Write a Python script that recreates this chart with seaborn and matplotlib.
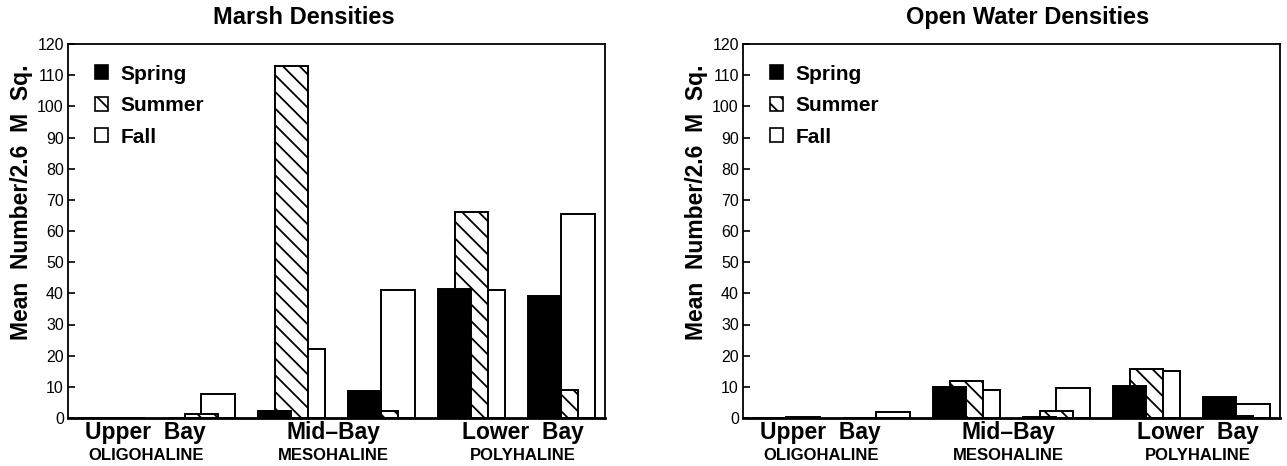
import numpy as np
import pandas as pd
import matplotlib
matplotlib.use("Agg")
import matplotlib.pyplot as plt
import matplotlib.transforms as mtransforms
from matplotlib.patches import Patch
import seaborn as sns

# ---------------- data ----------------
seasons = ["Spring", "Summer", "Fall"]
group_index = [0, 1, 2, 3, 4, 5]          # two sampling groups per bay region
regions = ["Upper  Bay", "Mid\u2013Bay", "Lower  Bay"]
salinity = ["OLIGOHALINE", "MESOHALINE", "POLYHALINE"]
y_ticks = [0, 10, 20, 30, 40, 50, 60, 70, 80, 90, 100, 110, 120]

marsh_spring = [0.0, 0.0, 2.2, 8.7, 41.4, 39.2]
marsh_summer = [0.0, 1.3, 113.0, 2.2, 66.0, 9.0]
marsh_fall = [0.0, 7.7, 22.0, 41.0, 41.0, 65.5]

open_spring = [0.0, 0.0, 10.0, 0.3, 10.3, 6.8]
open_summer = [0.0, 0.0, 11.8, 2.1, 15.6, 0.6]
open_fall = [0.4, 1.8, 9.0, 9.5, 15.1, 4.5]

# ---------------- style ----------------
sns.set_theme(style="white")
plt.rcParams["font.family"] = ["Liberation Sans", "DejaVu Sans"]
plt.rcParams["hatch.linewidth"] = 1.3
for key in ["text.color", "axes.labelcolor", "xtick.color", "ytick.color", "axes.edgecolor"]:
    plt.rcParams[key] = "black"
tick_family = ["Liberation Sans Narrow", "Liberation Sans", "DejaVu Sans"]

bar_w = 0.372
step = 0.186
styles = {
    "Spring": dict(color="black", hatch=None),
    "Summer": dict(color="white", hatch="\\\\"),
    "Fall": dict(color="white", hatch=None),
}
offsets = {"Spring": 0.0, "Summer": step, "Fall": 2 * step}

fig = plt.figure(figsize=(12.87, 4.66), dpi=100)
ax1 = fig.add_axes([68 / 1287, 1 - 418 / 466, 537 / 1287, 374 / 466])
ax2 = fig.add_axes([743 / 1287, 1 - 418 / 466, 537 / 1287, 374 / 466])

panels = [
    (ax1, "Marsh Densities", 0.44, {"Spring": marsh_spring, "Summer": marsh_summer, "Fall": marsh_fall}),
    (ax2, "Open Water Densities", 0.53, {"Spring": open_spring, "Summer": open_summer, "Fall": open_fall}),
]

label_x = [0.57, 2.65, 4.76]

for ax, title, tx, data in panels:
    # draw Fall first, then Summer, then Spring on top (overlapping bars)
    for season in ["Fall", "Summer", "Spring"]:
        df = pd.DataFrame({
            "x": np.array(group_index, dtype=float) + offsets[season],
            "y": data[season],
        })
        kw = dict(edgecolor="black", linewidth=1.4)
        if styles[season]["hatch"]:
            kw["hatch"] = styles[season]["hatch"]
        sns.barplot(data=df, x="x", y="y", ax=ax, native_scale=True,
                    width=bar_w, color=styles[season]["color"], saturation=1,
                    errorbar=None, **kw)

    ax.set_xlim(-0.294, 5.67)
    ax.set_ylim(0, 120)
    ax.set_yticks(y_ticks)
    ax.set_yticklabels([str(t) for t in y_ticks], fontfamily=tick_family, fontsize=11.5)
    ax.set_xticks([])
    ax.set_xlabel("")
    ax.tick_params(axis="y", direction="in", length=5, width=1.2, left=True, pad=3, colors="black")
    for name, sp in ax.spines.items():
        sp.set_visible(True)
        sp.set_color("black")
        sp.set_linewidth(1.3)
    ax.spines["bottom"].set_linewidth(2.0)

    ax.set_ylabel("Mean  Number/2.6  M  Sq.", fontsize=16.5, fontweight="bold")
    ax.yaxis.set_label_coords(-0.066, 0.576)
    ax.text(tx, 1.07, title, transform=ax.transAxes, ha="center", va="center",
            fontsize=17, fontweight="bold")

    trans = mtransforms.blended_transform_factory(ax.transData, ax.transAxes)
    for xpos, reg, sal in zip(label_x, regions, salinity):
        ax.text(xpos, -0.04, reg, transform=trans, ha="center", va="center",
                fontsize=16.5, fontweight="bold")
        ax.text(xpos, -0.10, sal, transform=trans, ha="center", va="center",
                fontsize=12, fontweight="bold")

    handles = [
        Patch(facecolor=styles[s]["color"], edgecolor="black", linewidth=1.2,
              hatch=styles[s]["hatch"], label=s)
        for s in seasons
    ]
    ax.legend(handles=handles, loc="upper left", bbox_to_anchor=(0.05, 0.945),
              frameon=False, borderpad=0, borderaxespad=0,
              handlelength=0.65, handleheight=0.65, handletextpad=0.6,
              labelspacing=0.6,
              prop={"weight": "bold", "size": 15})

fig.savefig("out.png", dpi=100, facecolor="white")
